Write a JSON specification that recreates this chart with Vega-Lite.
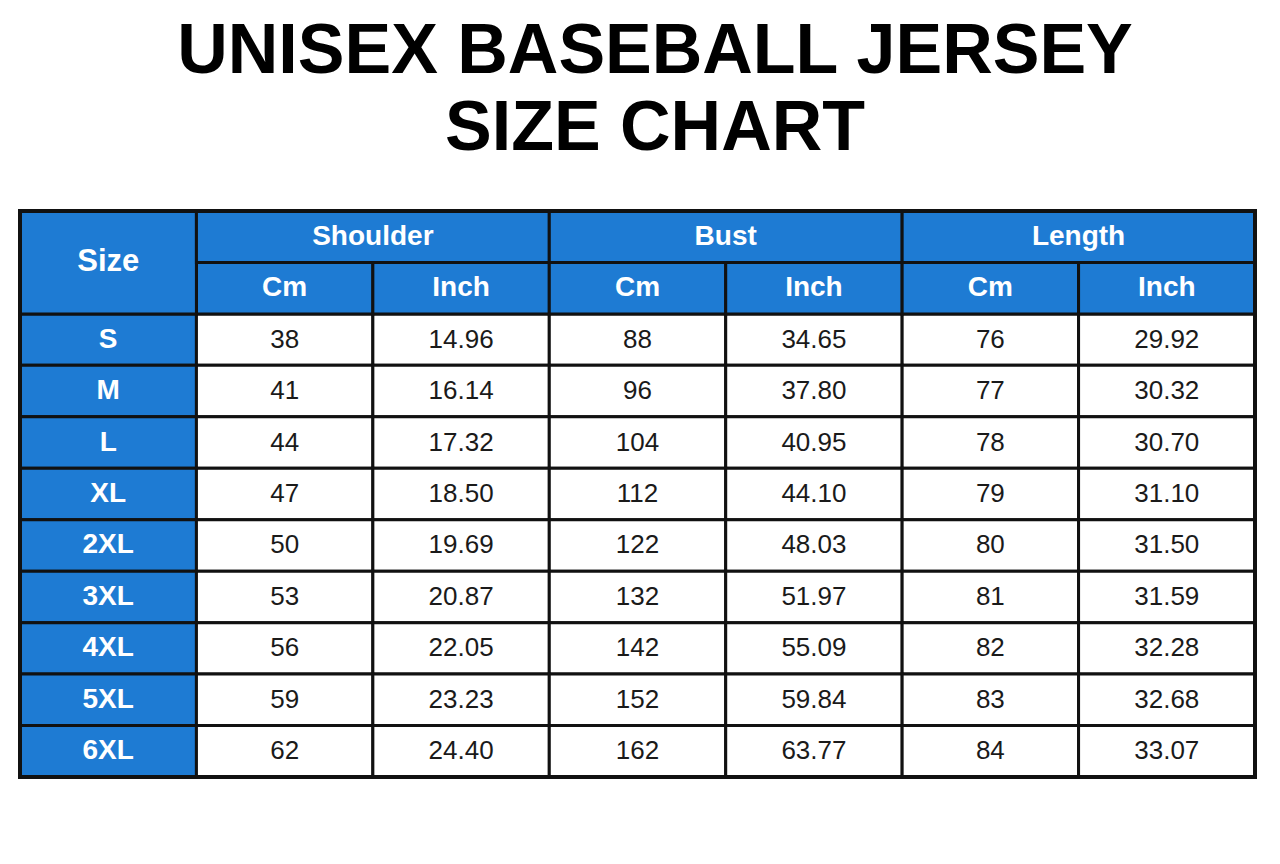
{
  "$schema": "https://vega.github.io/schema/vega-lite/v6.json",
  "description": "Unisex baseball jersey size chart drawn as a table.",
  "width": 1280,
  "height": 684,
  "padding": {"top": 17, "left": 0, "right": 0, "bottom": 0},
  "background": "white",
  "title": {
    "text": ["UNISEX BASEBALL JERSEY", "SIZE CHART"],
    "font": "Liberation Sans",
    "fontSize": 70,
    "fontWeight": "bold",
    "lineHeight": 77,
    "color": "#000000",
    "anchor": "middle",
    "baseline": "top",
    "dx": 15,
    "offset": 16
  },
  "config": {"view": {"stroke": null}},
  "datasets": {
    "sizes": [
      {"size": "S", "sc": "38", "si": "14.96", "bc": "88", "bi": "34.65", "lc": "76", "li": "29.92"},
      {"size": "M", "sc": "41", "si": "16.14", "bc": "96", "bi": "37.80", "lc": "77", "li": "30.32"},
      {"size": "L", "sc": "44", "si": "17.32", "bc": "104", "bi": "40.95", "lc": "78", "li": "30.70"},
      {"size": "XL", "sc": "47", "si": "18.50", "bc": "112", "bi": "44.10", "lc": "79", "li": "31.10"},
      {"size": "2XL", "sc": "50", "si": "19.69", "bc": "122", "bi": "48.03", "lc": "80", "li": "31.50"},
      {"size": "3XL", "sc": "53", "si": "20.87", "bc": "132", "bi": "51.97", "lc": "81", "li": "31.59"},
      {"size": "4XL", "sc": "56", "si": "22.05", "bc": "142", "bi": "55.09", "lc": "82", "li": "32.28"},
      {"size": "5XL", "sc": "59", "si": "23.23", "bc": "152", "bi": "59.84", "lc": "83", "li": "32.68"},
      {"size": "6XL", "sc": "62", "si": "24.40", "bc": "162", "bi": "63.77", "lc": "84", "li": "33.07"}
    ],
    "units": [
      {"row": "h2", "col": "sc", "label": "Cm"},
      {"row": "h2", "col": "si", "label": "Inch"},
      {"row": "h2", "col": "bc", "label": "Cm"},
      {"row": "h2", "col": "bi", "label": "Inch"},
      {"row": "h2", "col": "lc", "label": "Cm"},
      {"row": "h2", "col": "li", "label": "Inch"}
    ],
    "groups": [
      {"label": "Size", "c1": "size", "c2": "size", "r1": "h1", "r2": "h2"},
      {"label": "Shoulder", "c1": "sc", "c2": "si", "r1": "h1", "r2": "h1"},
      {"label": "Bust", "c1": "bc", "c2": "bi", "r1": "h1", "r2": "h1"},
      {"label": "Length", "c1": "lc", "c2": "li", "r1": "h1", "r2": "h1"}
    ],
    "frame": [
      {"c1": "size", "c2": "li", "r1": "h1", "r2": "6XL"}
    ]
  },
  "layer": [
    {
      "data": {"name": "sizes"},
      "transform": [{"fold": ["size", "sc", "si", "bc", "bi", "lc", "li"], "as": ["col", "label"]}],
      "mark": {"type": "rect", "stroke": "#111111", "strokeWidth": 3},
      "encoding": {
        "x": {"field": "col", "type": "nominal", "axis": null,
              "scale": {"type": "band", "domain": ["size", "sc", "si", "bc", "bi", "lc", "li"], "range": [20, 1255], "paddingInner": 0, "paddingOuter": 0}},
        "y": {"field": "size", "type": "nominal", "axis": null,
              "scale": {"type": "band", "domain": ["h1", "h2", "S", "M", "L", "XL", "2XL", "3XL", "4XL", "5XL", "6XL"], "range": [30, 596], "paddingInner": 0, "paddingOuter": 0}},
        "fill": {
          "condition": {"test": "datum.col === 'size'", "value": "#1e7bd3"},
          "value": "#ffffff"
        }
      }
    },
    {
      "data": {"name": "sizes"},
      "transform": [
        {"fold": ["sc", "si", "bc", "bi", "lc", "li"], "as": ["col", "label"]}
      ],
      "mark": {"type": "text", "font": "Liberation Sans", "fontSize": 26, "color": "#1a1a1a", "baseline": "middle", "align": "center"},
      "encoding": {
        "x": {"field": "col", "type": "nominal", "axis": null, "bandPosition": 0.5},
        "y": {"field": "size", "type": "nominal", "axis": null, "bandPosition": 0.5},
        "text": {"field": "label"}
      }
    },
    {
      "data": {"name": "sizes"},
      "transform": [{"fold": ["size"], "as": ["col", "label"]}],
      "mark": {"type": "text", "font": "Liberation Sans", "fontSize": 28, "fontWeight": "bold", "color": "#ffffff", "baseline": "middle", "align": "center"},
      "encoding": {
        "x": {"field": "col", "type": "nominal", "axis": null, "bandPosition": 0.5},
        "y": {"field": "size", "type": "nominal", "axis": null, "bandPosition": 0.5},
        "text": {"field": "label"}
      }
    },
    {
      "data": {"name": "units"},
      "mark": {"type": "rect", "fill": "#1e7bd3", "stroke": "#111111", "strokeWidth": 3},
      "encoding": {
        "x": {"field": "col", "type": "nominal", "axis": null},
        "y": {"field": "row", "type": "nominal", "axis": null}
      }
    },
    {
      "data": {"name": "units"},
      "mark": {"type": "text", "font": "Liberation Sans", "fontSize": 28, "fontWeight": "bold", "color": "#ffffff", "baseline": "middle", "align": "center"},
      "encoding": {
        "x": {"field": "col", "type": "nominal", "axis": null, "bandPosition": 0.5},
        "y": {"field": "row", "type": "nominal", "axis": null, "bandPosition": 0.5},
        "text": {"field": "label"}
      }
    },
    {
      "data": {"name": "groups"},
      "mark": {"type": "rect", "fill": "#1e7bd3", "stroke": "#111111", "strokeWidth": 3},
      "encoding": {
        "x": {"field": "c1", "type": "nominal", "axis": null, "bandPosition": 0},
        "x2": {"field": "c2", "bandPosition": 1},
        "y": {"field": "r1", "type": "nominal", "axis": null, "bandPosition": 0},
        "y2": {"field": "r2", "bandPosition": 1}
      }
    },
    {
      "data": {"name": "groups"},
      "transform": [{"filter": "datum.label !== 'Size'"}],
      "mark": {"type": "text", "font": "Liberation Sans", "fontSize": 28, "fontWeight": "bold", "color": "#ffffff", "baseline": "middle", "align": "center"},
      "encoding": {
        "x": {"field": "c2", "type": "nominal", "axis": null, "bandPosition": 0},
        "y": {"field": "r1", "type": "nominal", "axis": null, "bandPosition": 0.5},
        "text": {"field": "label"}
      }
    },
    {
      "data": {"name": "groups"},
      "transform": [{"filter": "datum.label === 'Size'"}],
      "mark": {"type": "text", "font": "Liberation Sans", "fontSize": 31, "fontWeight": "bold", "color": "#ffffff", "baseline": "middle", "align": "center"},
      "encoding": {
        "x": {"field": "c1", "type": "nominal", "axis": null, "bandPosition": 0.5},
        "y": {"field": "r2", "type": "nominal", "axis": null, "bandPosition": 0},
        "text": {"field": "label"}
      }
    },
    {
      "data": {"name": "frame"},
      "mark": {"type": "rect", "fill": null, "filled": false, "stroke": "#111111", "strokeWidth": 4},
      "encoding": {
        "x": {"field": "c1", "type": "nominal", "axis": null, "bandPosition": 0},
        "x2": {"field": "c2", "bandPosition": 1},
        "y": {"field": "r1", "type": "nominal", "axis": null, "bandPosition": 0},
        "y2": {"field": "r2", "bandPosition": 1}
      }
    }
  ]
}
